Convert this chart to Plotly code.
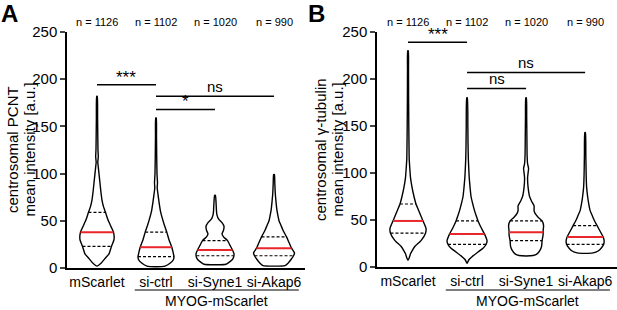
import numpy as np
import plotly.graph_objects as go

# ---------------- data ----------------
categories = ["mScarlet", "si-ctrl", "si-Syne1", "si-Akap6"]
n_labels = ["n = 1126", "n = 1102", "n = 1020", "n = 990"]
group_label = "MYOG-mScarlet"

# Panel A: centrosomal PCNT
A_median = [38, 22, 19, 21]
A_q1 = [23, 12, 13, 13]
A_q3 = [59, 38, 29, 33]
A_prof_vals = [
    [2, 5, 10, 15, 23, 30, 38, 45, 51, 59, 65, 72, 80, 90, 100, 108, 112, 118, 125, 140, 160, 182],
    [1.4, 2, 5, 9, 12, 17, 22, 30, 38, 45, 52, 60, 70, 78, 85, 90, 100, 120, 140, 159],
    [3.5, 4, 6, 10, 15, 19, 24, 29, 33, 36, 40, 44, 48, 52, 56, 60, 70, 77],
    [2, 2.5, 5, 9, 13, 16, 21, 27, 33, 40, 45, 50, 55, 62, 70, 80, 90, 99],
]
A_prof_dens = [
    [0, 4, 8, 12, 14.5, 17, 16.5, 13.5, 11, 8.5, 6.5, 5, 4, 3, 2, 1.2, 0.8, 1.3, 1, 0.8, 0.6, 0.3],
    [0, 9, 14, 17.5, 18, 17, 15.8, 13, 10.8, 8.5, 6.5, 4.5, 3, 2, 1.2, 1.5, 1, 0.7, 0.5, 0.3],
    [0, 11, 14, 18, 19, 17.5, 15, 12.5, 8.5, 7, 8.5, 9, 7, 3.5, 2, 1.5, 1, 0.4],
    [0, 11, 14, 17, 19.5, 20.5, 17.5, 15, 12.5, 9, 7, 5, 4, 2.8, 2, 1.2, 0.8, 0.4],
]
A_sig = [(0, 1, 194, "***"), (1, 3, 182, "ns"), (1, 2, 168, "*")]

# Panel B: centrosomal gamma-tubulin
B_median = [49, 35, 37, 32]
B_q1 = [36, 24, 28, 24]
B_q3 = [67, 49, 49, 44]
B_prof_vals = [
    [7, 10, 14, 18, 22, 28, 36, 41, 49, 58, 67, 75, 85, 95, 105, 115, 130, 150, 180, 210, 230],
    [4, 8, 11, 16, 20, 24, 28, 35, 42, 49, 55, 60, 68, 75, 85, 95, 105, 115, 130, 150, 180],
    [11.7, 12.2, 14, 18, 22, 28, 34, 38, 44, 49, 53, 57, 60, 65, 70, 75, 85, 95, 100, 105, 110, 120, 140, 160, 180],
    [14.5, 15, 17, 20, 24, 28, 32, 38, 44, 50, 55, 60, 68, 75, 85, 100, 120, 143],
]
B_prof_dens = [
    [0, 1.3, 2.5, 4.5, 7, 13, 17.5, 18, 15, 11.5, 8, 6, 4, 2.5, 1.8, 1.2, 1, 0.8, 0.6, 0.5, 0.3],
    [0, 2, 5, 11, 16, 19, 20, 17.5, 14, 11, 9, 7.5, 5.5, 4, 3, 2.2, 1.7, 1.3, 1, 0.8, 0.3],
    [0, 7, 11, 14, 15.5, 16, 17, 17, 17.5, 16, 12, 9, 8, 8, 5.5, 3.5, 2, 1.5, 2, 2.5, 1.5, 1, 0.8, 0.6, 0.3],
    [0, 8, 13, 16, 18.5, 19, 18, 15, 12, 9, 7, 5, 3.5, 2.5, 1.5, 1, 0.7, 0.3],
]
B_sig = [(0, 1, 239, "***"), (1, 3, 207, "ns"), (1, 2, 190, "ns")]

A_ytitle = ["centrosomal PCNT", "mean intensity [a.u.]"]
B_ytitle = ["centrosomal γ-tubulin", "mean intensity [a.u.]"]

# ---------------- styling / layout ----------------
W, H = 617, 310
FONT = "Liberation Sans, Arial, sans-serif"
DENS_SCALE = 1 / 59.0  # density units -> category units


def px(xp):
    return xp / W


def py(yp):
    return 1 - yp / H


fig = go.Figure()


def add_panel(xa, ya, medians, q1s, q3s, pvals, pdens):
    xref = "x" if xa == 1 else f"x{xa}"
    yref = "y" if ya == 1 else f"y{ya}"
    for i in range(len(categories)):
        v = np.array(pvals[i], dtype=float)
        d = np.array(pdens[i], dtype=float) * DENS_SCALE
        xs = np.concatenate([i + d, (i - d)[::-1]])
        ys = np.concatenate([v, v[::-1]])
        fig.add_trace(go.Scatter(
            x=xs, y=ys, mode="lines", fill="toself", fillcolor="white",
            line=dict(color="black", width=1.4, shape="spline", smoothing=0.5),
            xaxis=xref, yaxis=yref, showlegend=False, hoverinfo="skip"))
        for q, col, dash, wd in [(q1s[i], "black", "3px,2px", 1.2),
                                 (q3s[i], "black", "3px,2px", 1.2),
                                 (medians[i], "#e8262b", "solid", 2)]:
            hw = np.interp(q, v, d)
            fig.add_trace(go.Scatter(
                x=[i - hw, i + hw], y=[q, q], mode="lines",
                line=dict(color=col, width=wd, dash=dash),
                xaxis=xref, yaxis=yref, showlegend=False, hoverinfo="skip"))


add_panel(1, 1, A_median, A_q1, A_q3, A_prof_vals, A_prof_dens)
add_panel(2, 2, B_median, B_q1, B_q3, B_prof_vals, B_prof_dens)

xcommon = dict(showgrid=False, zeroline=False, showline=True, linecolor="black",
               linewidth=1.5, automargin=False, ticks="", tickvals=[0, 1, 2, 3],
               ticktext=categories, tickfont=dict(family=FONT, size=14, color="black"))
ycommon = dict(showgrid=False, zeroline=False, showline=True, linecolor="black",
               linewidth=1.5, automargin=False, range=[0, 250],
               tickvals=[0, 50, 100, 150, 200, 250], ticks="outside", ticklen=5, tickwidth=1.5,
               tickfont=dict(family=FONT, size=15, color="black"))

fig.update_layout(
    width=W, height=H, margin=dict(l=0, r=0, t=0, b=0, pad=0, autoexpand=False),
    plot_bgcolor="white", paper_bgcolor="white",
    xaxis=dict(domain=[px(67), px(305)], range=[-0.508, 3.525], anchor="y", **xcommon),
    yaxis=dict(domain=[py(268), py(32)], anchor="x", **ycommon),
    xaxis2=dict(domain=[px(377), px(617)], range=[-0.525, 3.54], anchor="y2", **xcommon),
    yaxis2=dict(domain=[py(267), py(32)], anchor="x2", **ycommon),
)

shapes = []
annots = []


def txt(**kw):
    d = dict(showarrow=False, xanchor="center", yanchor="middle")
    d.update(kw)
    return d


def sig_panel(xref, yref, sigs):
    for a, b, yv, t in sigs:
        shapes.append(dict(type="line", xref=xref, yref=yref, x0=a, x1=b, y0=yv, y1=yv,
                           line=dict(color="black", width=1.5)))
        star = t.startswith("*")
        annots.append(txt(xref=xref, yref=yref, x=(a + b) / 2, y=yv, text=t,
                          yanchor="bottom", yshift=-4 if star else -1,
                          font=dict(family=FONT, size=17 if star else 15, color="black")))


sig_panel("x", "y", A_sig)
sig_panel("x2", "y2", B_sig)

for xref in ["x", "x2"]:
    for i, t in enumerate(n_labels):
        annots.append(txt(xref=xref, yref="paper", x=i, y=py(22), text=t,
                          font=dict(family=FONT, size=11, color="black")))
    shapes.append(dict(type="line", xref=xref, yref="paper", x0=0.64, x1=3.42,
                       y0=py(290), y1=py(290), line=dict(color="black", width=1.2)))
    annots.append(txt(xref=xref, yref="paper", x=2.02, y=py(301), text=group_label,
                      font=dict(family=FONT, size=14, color="black")))

# panel letters
annots.append(txt(xref="paper", yref="paper", x=px(9), y=py(13), text="<b>A</b>",
                  font=dict(family=FONT, size=24, color="black")))
annots.append(txt(xref="paper", yref="paper", x=px(316), y=py(13), text="<b>B</b>",
                  font=dict(family=FONT, size=24, color="black")))

# y titles (two lines each)
for (x1, x2), lines in [((12, 28.5), A_ytitle), ((320, 336.5), B_ytitle)]:
    for xp, line in zip((x1, x2), lines):
        annots.append(txt(xref="paper", yref="paper", x=px(xp), y=py(150), text=line,
                          textangle=-90, font=dict(family=FONT, size=15, color="black")))

fig.update_layout(shapes=shapes, annotations=annots)
fig.write_html("out.html", config={"displayModeBar": False},
               post_script="document.body.style.margin='0';document.body.style.overflow='hidden';")
